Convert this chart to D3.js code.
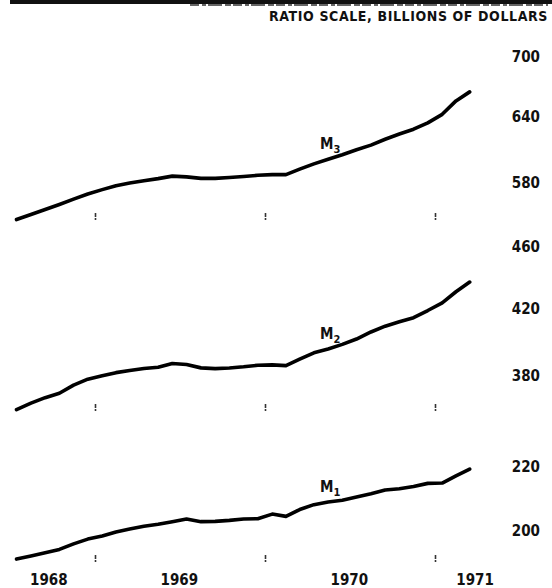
<!DOCTYPE html>
<html>
<head>
<meta charset="utf-8">
<script src="https://cdn.jsdelivr.net/npm/d3@7"></script>
<style>
  html, body { margin: 0; padding: 0; background: #fff; }
  svg { display: block; }
  .lbl { font-family: "Liberation Sans Narrow", "DejaVu Sans Condensed", "Roboto Condensed", sans-serif; font-weight: bold; fill: #111; }
</style>
</head>
<body>
<div id="chart"></div>
<script>
// monthly averages, Jul 1968 - Mar 1971
var months = d3.timeMonth.range(new Date(1968, 6, 1), new Date(1971, 3, 1));

var m3 = [549.2, 553.4, 557.5, 561.7, 566.2, 570.5, 574.3, 577.7, 580.0, 582.0, 583.8,
          586.0, 585.3, 584.0, 584.0, 584.8, 585.7, 586.7, 587.3, 587.3, 592.1, 596.8,
          601.0, 605.0, 609.5, 613.7, 619.1, 624.0, 628.5, 634.5, 642.6, 655.6, 664.5];

var m2 = [361.5, 365.0, 368.0, 370.4, 374.9, 378.2, 380.1, 381.9, 383.1, 384.2, 385.0,
          387.1, 386.5, 384.6, 384.2, 384.5, 385.2, 386.1, 386.3, 385.9, 389.6, 393.3,
          395.5, 398.2, 401.4, 405.6, 409.1, 411.8, 414.3, 418.7, 423.5, 430.5, 436.7];

var m1 = [191.8, 192.7, 193.6, 194.6, 196.2, 197.6, 198.5, 199.7, 200.6, 201.4, 202.0,
          202.8, 203.6, 202.8, 202.9, 203.2, 203.6, 203.7, 205.1, 204.4, 206.5, 208.0,
          208.8, 209.4, 210.4, 211.4, 212.6, 213.0, 213.7, 214.7, 214.8, 217.1, 219.3];

var m3Ticks = [580, 640, 700];
var m2Ticks = [380, 420, 460];
var m1Ticks = [200, 220];

var yearTicks = [new Date(1969, 0, 1), new Date(1970, 0, 1), new Date(1971, 0, 1)];
var yearLabels = ["1968", "1969", "1970", "1971"];
var yearLabelDates = [new Date(1968, 8, 24), new Date(1969, 6, 1), new Date(1970, 6, 1), new Date(1971, 2, 28)];

var width = 552, height = 588;

var svg = d3.select("#chart").append("svg")
  .attr("width", width)
  .attr("height", height);

var x = d3.scaleTime()
  .domain([new Date(1969, 0, 1), new Date(1971, 0, 1)])
  .range([95, 435]);

function midMonth(d) {
  return (x(d) + x(d3.timeMonth.offset(d, 1))) / 2;
}

// scanned top border
svg.append("rect").attr("x", 10).attr("y", 0).attr("width", 542).attr("height", 4).attr("fill", "#111");
svg.append("line")
  .attr("x1", 190).attr("x2", 548).attr("y1", 5).attr("y2", 5)
  .attr("stroke", "#333").attr("stroke-width", 1.5)
  .attr("stroke-dasharray", "9,3,4,2,14,3,6,2");

svg.append("text")
  .attr("class", "lbl")
  .attr("x", 548).attr("y", 21)
  .attr("text-anchor", "end")
  .style("font-size", "14px")
  .style("letter-spacing", "0.6px")
  .text("RATIO SCALE, BILLIONS OF DOLLARS");

var panels = [
  {name: "3", data: m3, ticks: m3Ticks, domain: [580, 700], range: [183, 57], tickY: 213},
  {name: "2", data: m2, ticks: m2Ticks, domain: [380, 460], range: [376, 247], tickY: 404},
  {name: "1", data: m1, ticks: m1Ticks, domain: [200, 220], range: [531, 467], tickY: 555}
];
var labelAt = 22;

panels.forEach(function(p) {
  var y = d3.scaleLog().domain(p.domain).range(p.range);

  var g = svg.append("g");

  // year boundary marks
  g.append("g")
    .attr("transform", "translate(0," + p.tickY + ")")
    .call(d3.axisBottom(x).tickValues(yearTicks).tickSize(7).tickFormat(""))
    .call(function(a) { a.select(".domain").remove(); })
    .selectAll(".tick line")
    .attr("stroke", "#333")
    .attr("stroke-width", 1.6)
    .attr("stroke-dasharray", "4,1");

  // right-hand value axis
  g.append("g")
    .attr("transform", "translate(540,0)")
    .call(d3.axisRight(y).tickValues(p.ticks).tickSize(0).tickFormat(d3.format("d")))
    .call(function(a) { a.select(".domain").remove(); })
    .selectAll("text")
    .attr("class", "lbl")
    .attr("x", 0)
    .attr("text-anchor", "end")
    .style("font-size", "15px");

  var line = d3.line()
    .x(function(d, i) { return midMonth(months[i]); })
    .y(function(d) { return y(d); });

  g.append("path")
    .datum(p.data)
    .attr("d", line)
    .attr("fill", "none")
    .attr("stroke", "#000")
    .attr("stroke-width", 3.6)
    .attr("stroke-linejoin", "round")
    .attr("stroke-linecap", "round");

  var lx = midMonth(months[labelAt]) + 2;
  var ly = y(p.data[labelAt]) - 10;
  var t = g.append("text")
    .attr("class", "lbl")
    .attr("x", lx).attr("y", ly)
    .attr("text-anchor", "middle")
    .style("font-size", "15px");
  t.append("tspan").text("M");
  t.append("tspan").attr("dy", 4).style("font-size", "11px").text(p.name);
});

svg.append("g").selectAll("text")
  .data(yearLabels)
  .enter()
  .append("text")
  .attr("class", "lbl")
  .attr("x", function(d, i) { return x(yearLabelDates[i]); })
  .attr("y", 585)
  .attr("text-anchor", "middle")
  .style("font-size", "15px")
  .text(function(d) { return d; });
</script>
</body>
</html>
